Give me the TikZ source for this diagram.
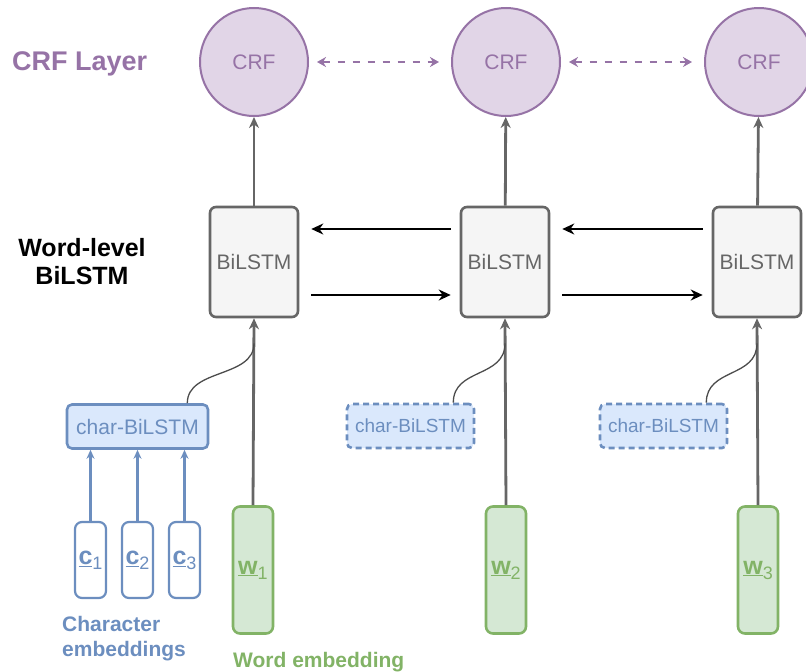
\documentclass[tikz,border=0pt]{standalone}
\usepackage{fontspec}
\setmainfont{Liberation Sans}
\usetikzlibrary{arrows.meta}
\definecolor{crffill}{HTML}{E1D5E7}
\definecolor{crfline}{HTML}{9673A6}
\definecolor{lstmfill}{HTML}{F5F5F5}
\definecolor{lstmline}{HTML}{666666}
\definecolor{charfill}{HTML}{DAE8FC}
\definecolor{charline}{HTML}{6C8EBF}
\definecolor{wordfill}{HTML}{D5E8D4}
\definecolor{wordline}{HTML}{82B366}
\newcommand{\fs}[1]{\fontsize{#1}{#1}\selectfont}
\newcommand{\emb}[2]{\underline{\textbf{\fs{25}#1}}\raisebox{-5pt}{\fs{18}#2}}
\begin{document}
\begin{tikzpicture}[x=1pt,y=-1pt,
  crf/.style={circle, minimum size=108pt, inner sep=0pt, fill=crffill, draw=crfline,
    line width=2pt, text=crfline, font=\fs{21}},
  lstm/.style={rectangle, rounded corners=6pt, minimum width=88pt, minimum height=110pt,
    inner sep=0pt, fill=lstmfill, draw=lstmline, line width=2.6pt, text=lstmline, font=\fs{21}},
  charbox/.style={rectangle, rounded corners=5pt, minimum height=44pt, inner sep=0pt,
    fill=charfill, draw=charline, line width=2.6pt, text=charline, font=\fs{21}},
  cbox/.style={rectangle, rounded corners=7pt, minimum width=31pt, minimum height=76pt,
    inner sep=0pt, fill=white, draw=charline, line width=2.2pt, text=charline},
  wbox/.style={rectangle, rounded corners=7pt, minimum width=40pt, minimum height=127pt,
    inner sep=0pt, fill=wordfill, draw=wordline, line width=2.6pt, text=wordline},
  up/.style={draw=lstmline, line width=2.8pt, -{Stealth[length=11pt,width=10pt]}},
  cup/.style={draw=charline, line width=2.2pt, -{Stealth[length=9pt,width=8pt]}},
  blk/.style={draw=black, line width=2.6pt, -{Stealth[length=12pt,width=11pt]}},
  dasharrow/.style={draw=crfline, line width=2.8pt, dash pattern=on 7pt off 8pt,
    {Stealth[length=9pt,width=10pt]}-{Stealth[length=9pt,width=10pt]}},
  feed/.style={draw=black!70, line width=1.3pt},
  lbl/.style={font=\fs{27}\bfseries, inner sep=0pt}
]
\useasboundingbox (0,0) rectangle (806,672);

% CRF layer
\node[crf] (crf1) at (254,62) {CRF};
\node[crf] (crf2) at (506,62) {CRF};
\node[crf] (crf3) at (759,62) {CRF};
\draw[dasharrow, shorten <=8pt, shorten >=12pt] (crf1) -- (crf2);
\draw[dasharrow, shorten <=8pt, shorten >=12pt] (crf2) -- (crf3);

% word-level BiLSTM
\node[lstm] (lstm1) at (254,262) {BiLSTM};
\node[lstm] (lstm2) at (505,262) {BiLSTM};
\node[lstm] (lstm3) at (757,262) {BiLSTM};
\foreach \a/\b in {1/2,2/3}{
  \draw[blk, shorten <=9pt, shorten >=12pt] ([yshift=33pt]lstm\b.west) -- ([yshift=33pt]lstm\a.east);
  \draw[blk, shorten <=12pt, shorten >=9pt] ([yshift=-33pt]lstm\a.east) -- ([yshift=-33pt]lstm\b.west);
}
\draw[up] (lstm1) -- (crf1);
\draw[up] (lstm2) -- (crf2);
\draw[up] (lstm3) -- (crf3);

% word embeddings
\node[wbox] (w1) at (253,570) {\emb{w}{1}};
\node[wbox] (w2) at (506,570) {\emb{w}{2}};
\node[wbox] (w3) at (758,570) {\emb{w}{3}};
\draw[up] (w1.north) -- (lstm1.south);
\draw[up] (w2.north) -- (lstm2.south);
\draw[up] (w3.north) -- (lstm3.south);

% character-level BiLSTMs
\node[charbox, minimum width=141pt] (char1) at (137.5,426.5) {char-BiLSTM};
\node[charbox, minimum width=127pt, font=\fs{19}, dash pattern=on 6pt off 4pt] (char2) at (410.5,426) {char-BiLSTM};
\node[charbox, minimum width=127pt, font=\fs{19}, dash pattern=on 6pt off 4pt] (char3) at (663.5,426) {char-BiLSTM};

\foreach \i in {1,2,3}{
  \coordinate (j\i) at ([yshift=-25pt]lstm\i.south);
  \coordinate (s\i) at ([xshift=-22pt]char\i.north east);
  \draw[feed] (s\i) .. controls +(0,-35) and +(0,35) .. (j\i);
}

% character embeddings
\node[cbox] (c1) at (90.5,560) {\emb{c}{1}};
\node[cbox] (c2) at (137.5,560) {\emb{c}{2}};
\node[cbox] (c3) at (184.5,560) {\emb{c}{3}};
\draw[cup] (c1.north) -- (c1.north |- char1.south);
\draw[cup] (c2.north) -- (c2.north |- char1.south);
\draw[cup] (c3.north) -- (c3.north |- char1.south);

% layer labels
\node[lbl, text=crfline, anchor=west] (crflabel) at (12,64) {CRF Layer};
\node[lbl, font=\fs{25}\bfseries, align=center, text=black] (wordlabel) at (82,262) {Word-level\\[3pt]BiLSTM};
\node[lbl, font=\fs{21}\bfseries, align=left, anchor=west, text=charline] (charlabel) at (62,639)
  {Character\\[4pt]embeddings};
\node[lbl, font=\fs{21}\bfseries, anchor=base west, text=wordline] (wordemb) at (233,667) {Word embedding};
\end{tikzpicture}
\end{document}
